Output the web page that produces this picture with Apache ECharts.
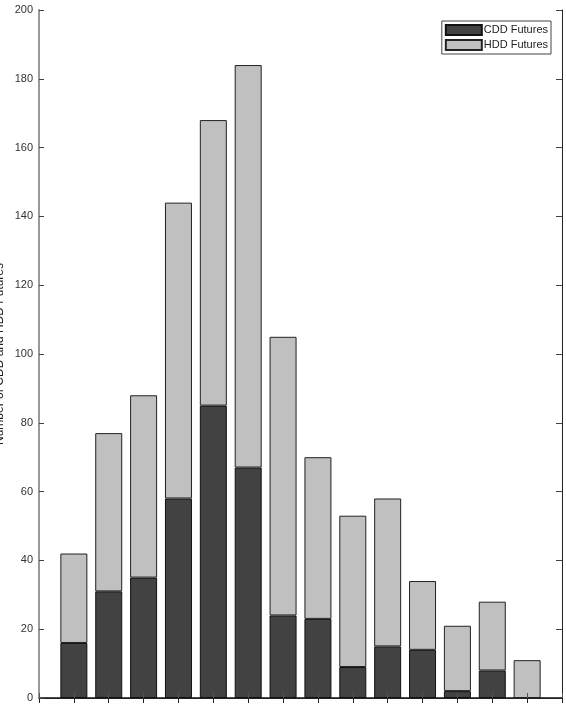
<!DOCTYPE html>
<html>
<head>
<meta charset="utf-8">
<script src="https://cdn.jsdelivr.net/npm/echarts@6/dist/echarts.min.js"></script>
<style>
  html, body { margin: 0; padding: 0; background: #fff; }
  #chart { width: 566px; height: 707px; }
</style>
</head>
<body>
<div id="chart"></div>
<script>
// x slots 0..15, bars sit on slots 1..14 (ends left empty)
const categories = ['', '1', '2', '3', '4', '5', '6', '7', '8', '9', '10', '11', '12', '13', '14', '']
const cddValues = ['-', 16, 31, 35, 58, 85, 67, 24, 23, 9, 15, 14, 2, 8, 0, '-']
const hddValues = ['-', 26, 46, 53, 86, 83, 117, 81, 47, 44, 43, 20, 19, 20, 11, '-']
const seriesNames = ['CDD Futures', 'HDD Futures']
const yTitle = 'Number of CDD and HDD Futures'

const chart = echarts.init(document.getElementById('chart'))

const font = 'Liberation Sans, Arial, sans-serif'

chart.setOption({
  animation: false,
  grid: { left: 39, right: 4, top: 10, bottom: 9, outerBoundsMode: 'none' },
  legend: {
    data: seriesNames,
    orient: 'vertical',
    right: 15,
    top: 21,
    icon: 'rect',
    itemWidth: 36,
    itemHeight: 10,
    itemGap: 3,
    padding: [3, 3, 3, 3],
    borderColor: '#444',
    borderWidth: 1,
    backgroundColor: '#fff',
    textStyle: { fontFamily: font, fontSize: 11, color: '#222', padding: [0, 0, 0, -3] }
  },
  xAxis: [
    {
      type: 'category',
      data: categories,
      boundaryGap: false,
      position: 'bottom',
      z: 5,
      axisLabel: { show: false },
      splitLine: { show: false },
      axisLine: { show: true, onZero: false, lineStyle: { color: '#222', width: 1 } },
      axisTick: { show: true, inside: true, length: 5, lineStyle: { color: '#555' } }
    },
    {
      type: 'category',
      data: categories,
      boundaryGap: false,
      position: 'top',
      axisLabel: { show: false },
      splitLine: { show: false },
      axisLine: { show: true, lineStyle: { color: '#111', width: 1.5 } },
      axisTick: { show: true, inside: true, length: 5, lineStyle: { color: '#222' } }
    }
  ],
  yAxis: [
    {
      type: 'value',
      min: 0,
      max: 200,
      interval: 20,
      z: 5,
      name: yTitle,
      nameLocation: 'middle',
      nameGap: 33,
      nameMoveOverlap: false,
      nameTextStyle: { fontFamily: font, fontSize: 12, color: '#222' },
      axisLine: { show: true, lineStyle: { color: '#999', width: 2 } },
      axisTick: { show: true, inside: true, length: 5, lineStyle: { color: '#444' } },
      axisLabel: { fontFamily: font, fontSize: 11, color: '#333', margin: 6 },
      splitLine: { show: false }
    },
    {
      type: 'value',
      position: 'right',
      min: 0,
      max: 200,
      interval: 20,
      axisLine: { show: true, lineStyle: { color: '#222', width: 1 } },
      axisTick: { show: true, inside: true, length: 6, lineStyle: { color: '#444' } },
      axisLabel: { show: false },
      splitLine: { show: false }
    }
  ],
  series: [
    {
      name: seriesNames[0],
      type: 'bar',
      stack: 'total',
      barWidth: 27,
      data: cddValues,
      itemStyle: { color: '#424242', borderColor: '#111', borderWidth: 1 }
    },
    {
      name: seriesNames[1],
      type: 'bar',
      stack: 'total',
      barWidth: 27,
      data: hddValues,
      itemStyle: { color: '#c0c0c0', borderColor: '#222', borderWidth: 1 }
    }
  ]
})
</script>
</body>
</html>
